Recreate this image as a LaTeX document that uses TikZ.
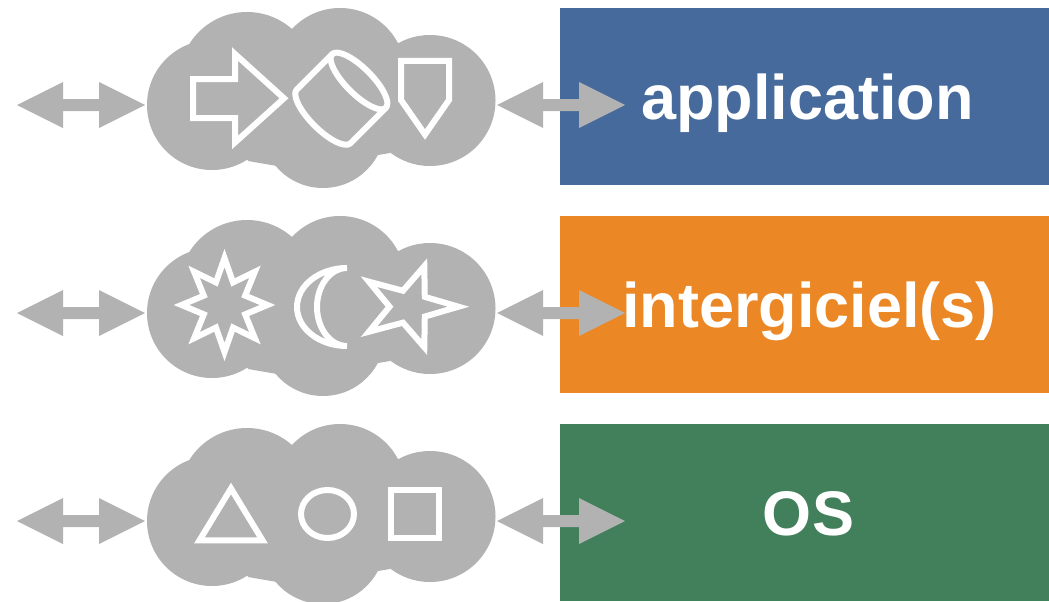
\documentclass[tikz,border=0pt]{standalone}
\usepackage{fontspec}
\setmainfont{Liberation Sans}
\definecolor{cloudgray}{HTML}{B2B2B2}
\definecolor{appblue}{HTML}{466A9B}
\definecolor{midorange}{HTML}{EB8725}
\definecolor{osgreen}{HTML}{41805B}
\tikzset{
  sym/.style={draw=white, line width=6pt, line join=miter},
  layerbox/.style={rectangle, inner sep=0pt, outer sep=0pt, minimum width=489pt, minimum height=177pt, anchor=north west},
  layertext/.style={text=white, font=\fontsize{63}{70}\selectfont\bfseries, text height=45pt, text depth=0pt, inner sep=0pt},
  dblarr/.pic={\fill[cloudgray] (0,0) -- (46,-23) -- (46,-6) -- (82,-6) -- (82,-23) -- (128,0) -- (82,23) -- (82,6) -- (46,6) -- (46,23) -- cycle;}
}
\newcommand\drawcloud[1]{%
  \begin{scope}[shift={(0,#1)}]
    \fill[cloudgray] (212,105) circle[radius=65] (247,80) circle[radius=68]
      (340,73.4) circle[radius=65.4] (430,100.5) circle[radius=65.5] (323,126) circle[radius=62];
    \fill[cloudgray] (190,43) -- (292,29) -- (397,43) -- (390,153) -- (378,155) -- (277,166) -- (248,161) -- cycle;
  \end{scope}}
\begin{document}
\begin{tikzpicture}[x=1pt, y=-1pt]
\useasboundingbox (0,0) rectangle (1049,602);
% clouds
\drawcloud{0}
\drawcloud{208}
\drawcloud{416}
% row 1 symbols
\draw[sym] (193,79) -- (235,79) -- (235,54) -- (284,98.3) -- (235,142.5) -- (235,118) -- (193,118) -- cycle;
\begin{scope}[shift={(359,81)}, rotate=225]
  \draw[sym, line join=round] (0,0) ellipse[x radius=13, y radius=38];
  \draw[sym, line join=round] (0,38) -- (50,38) .. controls (57.2,38) and (63,21) .. (63,0)
     .. controls (63,-21) and (57.2,-38) .. (50,-38) -- (0,-38);
\end{scope}
\draw[sym] (401,61) -- (449,61) -- (449,100) -- (425,134.5) -- (401,100) -- cycle;
% row 2 symbols
\begin{scope}[shift={(224.5,305)}, x=43pt, y=47pt]
  \draw[sym] (90:1) \foreach \i in {1,...,15}{ -- ({90+\i*22.5}:{ifthenelse(mod(\i,2)==0,1,0.52)}) } -- cycle;
\end{scope}
\draw[sym] (347,268) .. controls (319.4,268) and (297,285.5) .. (297,307)
  .. controls (297,328.5) and (319.4,346) .. (347,346)
  .. controls (330.4,346) and (317,328.5) .. (317,307)
  .. controls (317,285.5) and (330.4,268) .. (347,268) -- cycle;
\begin{scope}[shift={(409,306.7)}, x=1pt, y=0.86pt]
  \draw[sym] (0:49.5) \foreach \i in {1,...,9}{ -- ({\i*36}:{ifthenelse(mod(\i,2)==0,49.5,19.5)}) } -- cycle;
\end{scope}
% row 3 symbols
\draw[sym] (231,488.5) -- (262.5,540.3) -- (199.5,540.3) -- cycle;
\draw[sym] (327.5,514) ellipse[x radius=26.5, y radius=24];
\draw[sym] (391,490) rectangle (439,538);
% layer boxes
\node[layerbox, fill=appblue] (app) at (560,8) {};
\node[layerbox, fill=midorange] (mid) at (560,216) {};
\node[layerbox, fill=osgreen] (os) at (560,424) {};
\node[layertext] (applbl) at ([xshift=3pt,yshift=-0.5pt]app.center) {application};
\node[layertext] (midlbl) at ([xshift=5pt,yshift=-0.5pt]mid.center) {intergiciel(s)};
\node[layertext] (oslbl) at ([xshift=4pt,yshift=-0.5pt]os.center) {OS};
% arrows
\coordinate (la1) at (17,105);
\coordinate (la2) at (17,313);
\coordinate (la3) at (17,521);
\coordinate (ra1) at (497,105);
\coordinate (ra2) at (497,313);
\coordinate (ra3) at (497,521);
\path (la1) pic {dblarr} (la2) pic {dblarr} (la3) pic {dblarr};
\path (ra1) pic {dblarr} (ra2) pic {dblarr} (ra3) pic {dblarr};
\end{tikzpicture}
\end{document}
